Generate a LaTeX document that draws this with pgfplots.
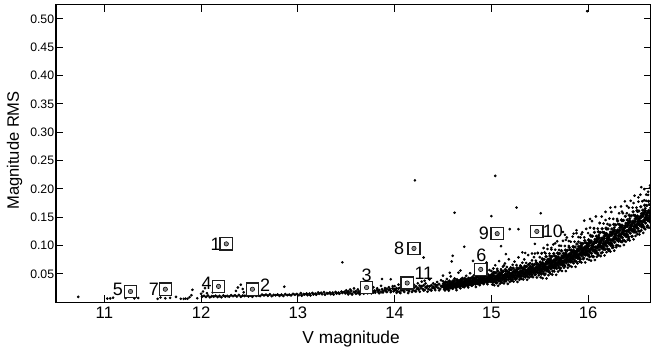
\documentclass[border=0pt]{standalone}
\usepackage{fontspec}
\setmainfont{Liberation Sans}
\usepackage{pgfplots}
\usepackage{pgfplotstable}
\pgfplotsset{compat=1.18}

\pgfplotstableread{
x y
10.73 0.0095
11.03 0.0065
11.06 0.0068
11.09 0.0080
11.22 0.0075
11.31 0.0068
11.35 0.0075
11.55 0.0060
11.58 0.0085
11.63 0.0070
11.68 0.0078
11.74 0.0095
11.79 0.0062
11.82 0.0060
11.84 0.0065
11.86 0.0062
11.88 0.0090
11.90 0.0125
11.91 0.0220
11.96 0.0070
12.00 0.0150
12.02 0.0190
12.04 0.0250
12.06 0.0160
12.12 0.0175
12.36 0.0200
12.38 0.0260
12.41 0.0310
12.43 0.0235
12.44 0.0175
12.86 0.0275
13.46 0.0705
13.87 0.0410
13.96 0.0405
14.16 0.0405
14.30 0.0790
14.21 0.2150
14.35 0.0420
14.31 0.0380
14.50 0.0470
14.57 0.0520
14.59 0.0720
14.60 0.0820
14.62 0.1580
14.68 0.0560
14.72 0.0980
14.81 0.0730
14.95 0.0700
15.00 0.1520
15.04 0.2230
15.10 0.0990
15.13 0.0650
15.15 0.0850
15.19 0.1290
15.26 0.1670
15.28 0.1290
15.32 0.0880
15.35 0.0870
15.42 0.0860
15.45 0.0860
15.45 0.1030
15.48 0.0865
15.51 0.1570
15.52 0.0860
15.55 0.0880
15.58 0.0940
15.62 0.0960
15.66 0.1040
15.70 0.1000
15.74 0.1240
15.76 0.1190
15.77 0.1100
15.80 0.1080
15.85 0.1210
15.88 0.1270
15.90 0.1150
15.93 0.1200
15.96 0.1440
15.99 0.5135
16.02 0.1470
16.06 0.1300
16.12 0.1400
16.18 0.1450
16.23 0.1670
16.35 0.1600
16.40 0.1700
16.47 0.1750
16.52 0.1850
16.55 0.2030
16.58 0.1800
16.62 0.1950
16.64 0.2060
16.60 0.1900
}\outliers

\pgfplotstableread{
x y
12.01 0.0100
12.03 0.0112
12.05 0.0095
12.07 0.0118
12.09 0.0089
12.11 0.0107
12.13 0.0102
12.15 0.0114
12.17 0.0094
12.19 0.0111
12.21 0.0090
12.23 0.0120
12.25 0.0102
12.27 0.0110
12.29 0.0100
12.31 0.0124
12.33 0.0110
12.35 0.0122
12.37 0.0104
12.39 0.0128
12.41 0.0098
12.43 0.0117
12.45 0.0112
12.47 0.0123
12.49 0.0104
12.51 0.0121
12.53 0.0100
12.55 0.0130
12.57 0.0113
12.59 0.0121
12.61 0.0110
12.63 0.0134
12.65 0.0121
12.67 0.0133
12.69 0.0116
12.71 0.0139
12.73 0.0110
12.75 0.0129
12.77 0.0124
12.79 0.0136
12.81 0.0116
12.83 0.0133
12.85 0.0113
12.87 0.0143
12.89 0.0126
12.91 0.0133
12.93 0.0123
12.95 0.0147
12.97 0.0134
12.99 0.0146
13.01 0.0126
13.03 0.0160
13.04 0.0118
13.06 0.0144
13.07 0.0137
13.09 0.0154
13.10 0.0127
13.12 0.0151
13.13 0.0122
13.15 0.0163
13.16 0.0139
13.18 0.0150
13.19 0.0136
13.21 0.0170
13.22 0.0150
13.24 0.0167
13.25 0.0143
13.27 0.0177
13.28 0.0135
13.30 0.0161
13.31 0.0155
13.33 0.0171
13.34 0.0144
13.36 0.0168
13.37 0.0139
13.39 0.0180
13.40 0.0155
13.42 0.0167
13.43 0.0152
13.45 0.0186
13.46 0.0167
13.48 0.0184
13.49 0.0159
13.51 0.0171
13.52 0.0190
13.54 0.0162
13.55 0.0202
13.56 0.0152
13.58 0.0184
13.59 0.0176
13.60 0.0195
13.62 0.0164
13.63 0.0192
13.64 0.0157
13.66 0.0207
13.67 0.0178
13.68 0.0191
13.70 0.0175
13.71 0.0215
13.72 0.0192
13.74 0.0212
13.75 0.0183
13.76 0.0223
13.78 0.0174
13.79 0.0205
13.80 0.0197
13.82 0.0217
13.83 0.0185
13.84 0.0213
13.86 0.0179
13.87 0.0228
13.88 0.0199
13.90 0.0213
13.91 0.0196
13.92 0.0236
13.94 0.0214
13.95 0.0233
13.96 0.0204
13.98 0.0245
13.99 0.0195
14.00 0.0230
14.01 0.0216
14.02 0.0247
14.03 0.0194
14.04 0.0240
14.05 0.0181
14.06 0.0262
14.07 0.0213
14.08 0.0235
14.09 0.0206
14.10 0.0272
14.11 0.0233
14.12 0.0264
14.13 0.0216
14.14 0.0282
14.15 0.0198
14.16 0.0249
14.17 0.0235
14.18 0.0267
14.19 0.0213
14.20 0.0259
14.21 0.0200
14.22 0.0281
14.23 0.0233
14.24 0.0254
14.25 0.0225
14.26 0.0291
14.27 0.0252
14.28 0.0284
14.29 0.0235
14.30 0.0301
14.31 0.0217
14.32 0.0268
14.33 0.0255
14.34 0.0286
14.35 0.0232
14.36 0.0278
14.37 0.0219
14.38 0.0301
14.39 0.0252
14.40 0.0273
14.41 0.0244
14.42 0.0310
14.43 0.0272
14.44 0.0303
14.45 0.0254
14.46 0.0320
14.47 0.0236
14.48 0.0288
14.49 0.0274
14.50 0.0280
14.51 0.0325
14.52 0.0258
14.53 0.0351
14.54 0.0235
14.55 0.0308
14.56 0.0290
14.57 0.0335
14.58 0.0260
14.59 0.0326
14.60 0.0245
14.61 0.0360
14.62 0.0293
14.63 0.0323
14.64 0.0284
14.65 0.0378
14.66 0.0325
14.67 0.0370
14.68 0.0302
14.69 0.0396
14.70 0.0280
14.71 0.0353
14.72 0.0335
14.73 0.0379
14.74 0.0305
14.75 0.0371
14.76 0.0290
14.77 0.0405
14.78 0.0337
14.79 0.0368
14.80 0.0329
14.81 0.0423
14.82 0.0370
14.83 0.0414
14.84 0.0347
14.85 0.0441
14.86 0.0325
14.87 0.0398
14.88 0.0379
14.89 0.0424
14.90 0.0350
14.91 0.0416
14.92 0.0335
14.93 0.0449
14.94 0.0382
14.95 0.0413
14.96 0.0374
14.97 0.0468
14.98 0.0414
14.99 0.0459
15.00 0.0420
15.01 0.0483
15.02 0.0386
15.03 0.0520
15.04 0.0353
15.05 0.0456
15.06 0.0429
15.07 0.0492
15.08 0.0386
15.09 0.0479
15.10 0.0362
15.11 0.0525
15.12 0.0428
15.13 0.0472
15.14 0.0415
15.15 0.0548
15.16 0.0471
15.17 0.0534
15.18 0.0438
15.19 0.0571
15.20 0.0404
15.21 0.0507
15.22 0.0480
15.23 0.0544
15.24 0.0437
15.25 0.0530
15.26 0.0414
15.27 0.0578
15.28 0.0482
15.29 0.0526
15.30 0.0470
15.31 0.0604
15.32 0.0528
15.33 0.0592
15.34 0.0496
15.35 0.0630
15.36 0.0464
15.37 0.0568
15.38 0.0542
15.39 0.0606
15.40 0.0500
15.41 0.0594
15.42 0.0478
15.43 0.0642
15.44 0.0546
15.45 0.0590
15.46 0.0534
15.47 0.0668
15.48 0.0592
15.49 0.0656
15.50 0.0600
15.51 0.0696
15.52 0.0553
15.53 0.0754
15.54 0.0506
15.55 0.0662
15.56 0.0623
15.57 0.0720
15.58 0.0561
15.59 0.0703
15.60 0.0529
15.61 0.0775
15.62 0.0632
15.63 0.0698
15.64 0.0615
15.65 0.0816
15.66 0.0702
15.67 0.0799
15.68 0.0655
15.69 0.0857
15.70 0.0608
15.71 0.0764
15.72 0.0726
15.73 0.0822
15.74 0.0664
15.75 0.0805
15.76 0.0633
15.77 0.0880
15.78 0.0738
15.79 0.0805
15.80 0.0723
15.81 0.0926
15.82 0.0813
15.83 0.0911
15.84 0.0768
15.85 0.0971
15.86 0.0724
15.87 0.0881
15.88 0.0844
15.89 0.0941
15.90 0.0784
15.91 0.0927
15.92 0.0754
15.93 0.1002
15.94 0.0859
15.95 0.0927
15.96 0.0845
15.97 0.1047
15.98 0.0935
15.99 0.1032
16.00 0.0950
16.01 0.1084
16.02 0.0882
16.03 0.1163
16.04 0.0814
16.05 0.1032
16.06 0.0977
16.07 0.1111
16.08 0.0888
16.09 0.1085
16.10 0.0841
16.11 0.1185
16.12 0.0983
16.13 0.1075
16.14 0.0957
16.15 0.1238
16.16 0.1078
16.17 0.1212
16.18 0.1010
16.19 0.1291
16.20 0.0942
16.21 0.1160
16.22 0.1105
16.23 0.1239
16.24 0.1016
16.25 0.1213
16.26 0.0971
16.27 0.1317
16.28 0.1117
16.29 0.1211
16.30 0.1095
16.31 0.1378
16.32 0.1220
16.33 0.1356
16.34 0.1156
16.35 0.1439
16.36 0.1092
16.37 0.1312
16.38 0.1259
16.39 0.1395
16.40 0.1174
16.41 0.1373
16.42 0.1131
16.43 0.1477
16.44 0.1277
16.45 0.1371
16.46 0.1255
16.47 0.1538
16.48 0.1380
16.49 0.1516
16.50 0.1316
16.51 0.1601
16.52 0.1256
16.53 0.1478
16.54 0.1427
16.55 0.1565
16.56 0.1346
16.57 0.1547
16.58 0.1307
16.59 0.1655
16.60 0.1457
16.61 0.1553
16.62 0.1439
16.63 0.1724
16.64 0.1568
16.65 0.1706
}\fringe

\pgfplotstableread{
x y
13.50 0.0209
13.52 0.0139
13.54 0.0225
13.56 0.0137
13.58 0.0244
13.60 0.0150
13.62 0.0227
13.64 0.0139
13.66 0.0270
13.68 0.0152
13.70 0.0229
13.72 0.0159
13.74 0.0245
13.76 0.0157
13.78 0.0264
13.80 0.0170
13.82 0.0247
13.84 0.0159
13.86 0.0290
13.88 0.0172
13.90 0.0249
13.92 0.0179
13.94 0.0265
13.96 0.0177
13.98 0.0284
14.00 0.0285
14.02 0.0167
14.04 0.0310
14.06 0.0162
14.08 0.0340
14.10 0.0182
14.12 0.0309
14.14 0.0162
14.16 0.0379
14.18 0.0182
14.20 0.0309
14.22 0.0191
14.24 0.0334
14.26 0.0186
14.28 0.0364
14.30 0.0206
14.32 0.0333
14.34 0.0186
14.36 0.0403
14.38 0.0206
14.40 0.0333
14.42 0.0215
14.44 0.0358
14.46 0.0210
14.48 0.0388
14.50 0.0371
14.52 0.0209
14.54 0.0410
14.56 0.0206
14.58 0.0456
14.60 0.0238
14.62 0.0419
14.64 0.0214
14.66 0.0521
14.68 0.0246
14.70 0.0427
14.72 0.0265
14.74 0.0466
14.76 0.0262
14.78 0.0512
14.80 0.0294
14.82 0.0475
14.84 0.0270
14.86 0.0577
14.88 0.0302
14.90 0.0483
14.92 0.0321
14.94 0.0522
14.96 0.0318
14.98 0.0568
15.00 0.0550
15.01 0.0313
15.02 0.0596
15.03 0.0300
15.04 0.0653
15.05 0.0336
15.06 0.0589
15.07 0.0292
15.08 0.0726
15.09 0.0329
15.10 0.0582
15.11 0.0345
15.12 0.0628
15.13 0.0332
15.14 0.0685
15.15 0.0368
15.16 0.0621
15.17 0.0324
15.18 0.0758
15.19 0.0361
15.20 0.0614
15.21 0.0377
15.22 0.0660
15.23 0.0364
15.24 0.0717
15.25 0.0400
15.26 0.0654
15.27 0.0358
15.28 0.0792
15.29 0.0396
15.30 0.0650
15.31 0.0414
15.32 0.0698
15.33 0.0402
15.34 0.0756
15.35 0.0440
15.36 0.0694
15.37 0.0398
15.38 0.0832
15.39 0.0436
15.40 0.0690
15.41 0.0454
15.42 0.0738
15.43 0.0442
15.44 0.0796
15.45 0.0480
15.46 0.0734
15.47 0.0438
15.48 0.0872
15.49 0.0476
15.50 0.0795
15.51 0.0441
15.52 0.0868
15.53 0.0424
15.54 0.0956
15.55 0.0482
15.56 0.0863
15.57 0.0420
15.58 0.1011
15.59 0.0478
15.60 0.0859
15.61 0.0505
15.62 0.0932
15.63 0.0488
15.64 0.1020
15.65 0.0546
15.66 0.0927
15.67 0.0484
15.68 0.1075
15.69 0.0542
15.70 0.0923
15.71 0.0569
15.72 0.0996
15.73 0.0552
15.74 0.1084
15.75 0.0610
15.76 0.0993
15.77 0.0550
15.78 0.1143
15.79 0.0610
15.80 0.0993
15.81 0.0641
15.82 0.1068
15.83 0.0626
15.84 0.1158
15.85 0.0686
15.86 0.1069
15.87 0.0626
15.88 0.1219
15.89 0.0686
15.90 0.1069
15.91 0.0717
15.92 0.1144
15.93 0.0702
15.94 0.1234
15.95 0.0762
15.96 0.1145
15.97 0.0702
15.98 0.1295
15.99 0.0762
16.00 0.1220
16.01 0.0748
16.02 0.1316
16.03 0.0734
16.04 0.1432
16.05 0.0800
16.06 0.1308
16.07 0.0746
16.08 0.1514
16.09 0.0802
16.10 0.1300
16.11 0.0828
16.12 0.1396
16.13 0.0814
16.14 0.1512
16.15 0.0880
16.16 0.1388
16.17 0.0826
16.18 0.1594
16.19 0.0882
16.20 0.1380
16.21 0.0908
16.22 0.1476
16.23 0.0894
16.24 0.1592
16.25 0.0960
16.26 0.1470
16.27 0.0910
16.28 0.1680
16.29 0.0970
16.30 0.1470
16.31 0.1000
16.32 0.1570
16.33 0.0990
16.34 0.1690
16.35 0.1060
16.36 0.1570
16.37 0.1010
16.38 0.1780
16.39 0.1070
16.40 0.1570
16.41 0.1100
16.42 0.1670
16.43 0.1090
16.44 0.1790
16.45 0.1160
16.46 0.1670
16.47 0.1110
16.48 0.1880
16.49 0.1170
16.50 0.1670
16.51 0.1202
16.52 0.1774
16.53 0.1196
16.54 0.1898
16.55 0.1270
16.56 0.1782
16.57 0.1224
16.58 0.1996
16.59 0.1288
16.60 0.1790
16.61 0.1322
16.62 0.1894
16.63 0.1316
16.64 0.2018
16.65 0.1390
}\halo

\pgfplotstableread{
x y
14.505 0.0330
14.515 0.0231
14.525 0.0357
14.535 0.0251
14.545 0.0353
14.555 0.0232
14.565 0.0375
14.575 0.0255
14.585 0.0353
14.595 0.0254
14.605 0.0379
14.615 0.0273
14.625 0.0375
14.635 0.0255
14.645 0.0398
14.655 0.0277
14.665 0.0375
14.675 0.0276
14.685 0.0402
14.695 0.0296
14.705 0.0397
14.715 0.0277
14.725 0.0420
14.735 0.0300
14.745 0.0398
14.755 0.0298
14.765 0.0424
14.775 0.0318
14.785 0.0420
14.795 0.0300
14.805 0.0442
14.815 0.0322
14.825 0.0420
14.835 0.0321
14.845 0.0447
14.855 0.0340
14.865 0.0442
14.875 0.0322
14.885 0.0465
14.895 0.0345
14.905 0.0442
14.915 0.0343
14.925 0.0469
14.935 0.0363
14.945 0.0465
14.955 0.0344
14.965 0.0487
14.975 0.0367
14.985 0.0465
14.995 0.0366
15.005 0.0492
15.015 0.0350
15.025 0.0528
15.035 0.0376
15.045 0.0519
15.055 0.0348
15.065 0.0551
15.075 0.0379
15.085 0.0517
15.095 0.0375
15.105 0.0554
15.115 0.0402
15.125 0.0545
15.135 0.0373
15.145 0.0576
15.155 0.0405
15.165 0.0543
15.175 0.0401
15.185 0.0579
15.195 0.0427
15.205 0.0571
15.215 0.0399
15.225 0.0602
15.235 0.0430
15.245 0.0568
15.255 0.0427
15.265 0.0606
15.275 0.0455
15.285 0.0599
15.295 0.0428
15.305 0.0632
15.315 0.0461
15.325 0.0600
15.335 0.0459
15.345 0.0638
15.355 0.0487
15.365 0.0631
15.375 0.0460
15.385 0.0664
15.395 0.0493
15.405 0.0632
15.415 0.0491
15.425 0.0670
15.435 0.0519
15.445 0.0663
15.455 0.0492
15.465 0.0696
15.475 0.0525
15.485 0.0664
15.495 0.0523
15.505 0.0708
15.515 0.0497
15.525 0.0766
15.535 0.0539
15.545 0.0757
15.555 0.0500
15.565 0.0807
15.575 0.0550
15.585 0.0759
15.595 0.0548
15.605 0.0817
15.615 0.0591
15.625 0.0808
15.635 0.0551
15.645 0.0858
15.655 0.0601
15.665 0.0811
15.675 0.0599
15.685 0.0868
15.695 0.0642
15.705 0.0859
15.715 0.0603
15.725 0.0909
15.735 0.0652
15.745 0.0862
15.755 0.0651
15.765 0.0921
15.775 0.0696
15.785 0.0915
15.795 0.0659
15.805 0.0967
15.815 0.0711
15.825 0.0922
15.835 0.0712
15.845 0.0982
15.855 0.0757
15.865 0.0975
15.875 0.0720
15.885 0.1028
15.895 0.0772
15.905 0.0983
15.915 0.0772
15.925 0.1043
15.935 0.0818
15.945 0.1036
15.955 0.0781
15.965 0.1088
15.975 0.0833
15.985 0.1044
15.995 0.0833
16.005 0.1101
16.015 0.0804
16.025 0.1180
16.035 0.0862
16.045 0.1165
16.055 0.0805
16.065 0.1233
16.075 0.0873
16.085 0.1165
16.095 0.0868
16.105 0.1244
16.115 0.0926
16.125 0.1229
16.135 0.0869
16.145 0.1297
16.155 0.0937
16.165 0.1229
16.175 0.0932
16.185 0.1308
16.195 0.0990
16.205 0.1293
16.215 0.0933
16.225 0.1361
16.235 0.1001
16.245 0.1293
16.255 0.0997
16.265 0.1375
16.275 0.1059
16.285 0.1364
16.295 0.1006
16.305 0.1436
16.315 0.1078
16.325 0.1372
16.335 0.1077
16.345 0.1455
16.355 0.1139
16.365 0.1444
16.375 0.1086
16.385 0.1516
16.395 0.1158
16.405 0.1452
16.415 0.1157
16.425 0.1535
16.435 0.1219
16.445 0.1524
16.455 0.1166
16.465 0.1596
16.475 0.1238
16.485 0.1532
16.495 0.1237
16.505 0.1616
16.515 0.1302
16.525 0.1609
16.535 0.1253
16.545 0.1685
16.555 0.1329
16.565 0.1625
16.575 0.1332
16.585 0.1712
16.595 0.1398
16.605 0.1705
16.615 0.1349
16.625 0.1781
16.635 0.1425
16.645 0.1721
}\mid

\pgfplotstableread{
x y
14.505 0.0295
14.515 0.0263
14.525 0.0315
14.535 0.0283
14.545 0.0293
14.555 0.0267
14.565 0.0319
14.575 0.0287
14.585 0.0318
14.595 0.0286
14.605 0.0337
14.615 0.0305
14.625 0.0315
14.635 0.0290
14.645 0.0342
14.655 0.0309
14.665 0.0340
14.675 0.0308
14.685 0.0360
14.695 0.0328
14.705 0.0337
14.715 0.0312
14.725 0.0364
14.735 0.0332
14.745 0.0363
14.755 0.0330
14.765 0.0382
14.775 0.0350
14.785 0.0360
14.795 0.0335
14.805 0.0386
14.815 0.0354
14.825 0.0385
14.835 0.0353
14.845 0.0405
14.855 0.0372
14.865 0.0382
14.875 0.0357
14.885 0.0409
14.895 0.0377
14.905 0.0407
14.915 0.0375
14.925 0.0427
14.935 0.0395
14.945 0.0405
14.955 0.0379
14.965 0.0431
14.975 0.0399
14.985 0.0430
14.995 0.0398
15.005 0.0442
15.015 0.0395
15.025 0.0468
15.035 0.0421
15.045 0.0434
15.055 0.0398
15.065 0.0471
15.075 0.0424
15.085 0.0467
15.095 0.0420
15.105 0.0494
15.115 0.0447
15.125 0.0460
15.135 0.0423
15.145 0.0496
15.155 0.0450
15.165 0.0493
15.175 0.0446
15.185 0.0519
15.195 0.0472
15.205 0.0486
15.215 0.0449
15.225 0.0522
15.235 0.0475
15.245 0.0518
15.255 0.0472
15.265 0.0546
15.275 0.0500
15.285 0.0514
15.295 0.0478
15.305 0.0552
15.315 0.0506
15.325 0.0550
15.335 0.0504
15.345 0.0578
15.355 0.0532
15.365 0.0546
15.375 0.0510
15.385 0.0584
15.395 0.0538
15.405 0.0582
15.415 0.0536
15.425 0.0610
15.435 0.0564
15.445 0.0578
15.455 0.0542
15.465 0.0616
15.475 0.0570
15.485 0.0614
15.495 0.0568
15.505 0.0633
15.515 0.0565
15.525 0.0676
15.535 0.0607
15.545 0.0629
15.555 0.0575
15.565 0.0687
15.575 0.0618
15.585 0.0684
15.595 0.0616
15.605 0.0727
15.615 0.0659
15.625 0.0680
15.635 0.0626
15.645 0.0738
15.655 0.0669
15.665 0.0736
15.675 0.0667
15.685 0.0778
15.695 0.0710
15.705 0.0731
15.715 0.0678
15.725 0.0789
15.735 0.0720
15.745 0.0787
15.755 0.0719
15.765 0.0831
15.775 0.0764
15.785 0.0787
15.795 0.0734
15.805 0.0847
15.815 0.0779
15.825 0.0847
15.835 0.0780
15.845 0.0892
15.855 0.0825
15.865 0.0847
15.875 0.0795
15.885 0.0908
15.895 0.0840
15.905 0.0908
15.915 0.0840
15.925 0.0953
15.935 0.0886
15.945 0.0908
15.955 0.0856
15.965 0.0968
15.975 0.0901
15.985 0.0969
15.995 0.0901
15.50 0.0525
15.51 0.0666
15.52 0.0583
15.53 0.0694
15.54 0.0641
15.55 0.0587
15.56 0.0668
15.57 0.0578
15.58 0.0576
15.59 0.0718
15.60 0.0634
15.61 0.0745
15.62 0.0692
15.63 0.0638
15.64 0.0720
15.65 0.0629
15.66 0.0627
15.67 0.0769
15.68 0.0685
15.69 0.0797
15.70 0.0743
15.71 0.0689
15.72 0.0771
15.73 0.0680
15.74 0.0679
15.75 0.0820
15.76 0.0738
15.77 0.0850
15.78 0.0798
15.79 0.0745
15.80 0.0828
15.81 0.0738
15.82 0.0738
15.83 0.0881
15.84 0.0798
15.85 0.0911
15.86 0.0859
15.87 0.0806
15.88 0.0889
15.89 0.0799
15.90 0.0799
15.91 0.0942
15.92 0.0859
15.93 0.0972
15.94 0.0919
15.95 0.0867
15.96 0.0950
15.97 0.0860
15.98 0.0860
15.99 0.1002
16.005 0.0996
16.015 0.0899
16.025 0.1054
16.035 0.0957
16.045 0.0986
16.055 0.0910
16.065 0.1065
16.075 0.0968
16.085 0.1060
16.095 0.0963
16.105 0.1118
16.115 0.1021
16.125 0.1050
16.135 0.0974
16.145 0.1129
16.155 0.1032
16.165 0.1124
16.175 0.1027
16.185 0.1182
16.195 0.1085
16.205 0.1114
16.215 0.1038
16.225 0.1193
16.235 0.1096
16.245 0.1188
16.255 0.1092
16.265 0.1249
16.275 0.1154
16.285 0.1185
16.295 0.1111
16.305 0.1268
16.315 0.1173
16.325 0.1267
16.335 0.1172
16.345 0.1329
16.355 0.1234
16.365 0.1265
16.375 0.1191
16.385 0.1348
16.395 0.1253
16.405 0.1347
16.415 0.1252
16.425 0.1409
16.435 0.1314
16.445 0.1345
16.455 0.1271
16.465 0.1428
16.475 0.1333
16.485 0.1427
16.495 0.1332
16.505 0.1490
16.515 0.1397
16.525 0.1430
16.535 0.1358
16.545 0.1517
16.555 0.1424
16.565 0.1520
16.575 0.1427
16.585 0.1586
16.595 0.1493
16.605 0.1526
16.615 0.1454
16.625 0.1613
16.635 0.1520
16.645 0.1616
16.00 0.0845
16.01 0.1042
16.02 0.0924
16.03 0.1079
16.04 0.1003
16.05 0.0927
16.06 0.1040
16.07 0.0911
16.08 0.0909
16.09 0.1106
16.10 0.0988
16.11 0.1143
16.12 0.1067
16.13 0.0991
16.14 0.1104
16.15 0.0975
16.16 0.0973
16.17 0.1170
16.18 0.1052
16.19 0.1207
16.20 0.1131
16.21 0.1055
16.22 0.1168
16.23 0.1039
16.24 0.1037
16.25 0.1234
16.26 0.1118
16.27 0.1275
16.28 0.1201
16.29 0.1127
16.30 0.1242
16.31 0.1115
16.32 0.1115
16.33 0.1314
16.34 0.1198
16.35 0.1355
16.36 0.1281
16.37 0.1207
16.38 0.1322
16.39 0.1195
16.40 0.1195
16.41 0.1394
16.42 0.1278
16.43 0.1435
16.44 0.1361
16.45 0.1287
16.46 0.1402
16.47 0.1275
16.48 0.1275
16.49 0.1474
16.50 0.1358
16.51 0.1517
16.52 0.1445
16.53 0.1373
16.54 0.1490
16.55 0.1365
16.56 0.1367
16.57 0.1568
16.58 0.1454
16.59 0.1613
16.60 0.1541
16.61 0.1469
16.62 0.1586
16.63 0.1461
16.64 0.1463
16.65 0.1664
}\core

\pgfplotstableread{
x y
12.26 0.103
12.53 0.023
13.71 0.026
12.18 0.028
11.27 0.019
14.89 0.058
11.63 0.023
14.20 0.095
15.06 0.121
15.47 0.125
14.13 0.034
}\marked

\definecolor{dotgray}{HTML}{8C8C8C}
\definecolor{boxcol}{HTML}{1E1E1E}

\begin{document}
\begin{tikzpicture}
\begin{axis}[
  scale only axis,
  width=446.25pt, height=223.2pt,
  xmin=10.5, xmax=16.65,
  ymin=0, ymax=0.525,
  xtick={11,12,13,14,15,16},
  ytick={0.05,0.10,0.15,0.20,0.25,0.30,0.35,0.40,0.45,0.50},
  tick align=inside,
  tick pos=both,
  major tick length=5.5pt,
  axis line style={line width=0.9pt, black},
  every tick/.style={line width=0.8pt, black},
  /pgf/number format/assume math mode=true,
  yticklabel style={font=\fontsize{9.2}{11}\selectfont, inner xsep=1.2pt,
    /pgf/number format/.cd, fixed, fixed zerofill, precision=2},
  xticklabel style={font=\fontsize{12.5}{14}\selectfont},
  xlabel={V magnitude},
  ylabel={Magnitude RMS},
  xlabel style={font=\fontsize{13}{15}\selectfont, at={(axis description cs:0.496,-0.1378)}, anchor=base},
  ylabel style={font=\fontsize{12.4}{14}\selectfont, at={(axis description cs:-0.0622,0.51)}, anchor=base, rotate=0},
  clip=true,
]
\addplot[only marks, mark=*, mark size=0.78pt, black] table[x=x,y=y] {\outliers};
\addplot[only marks, mark=*, mark size=0.82pt, black] table[x=x,y=y] {\halo};
\addplot[only marks, mark=*, mark size=0.9pt, black] table[x=x,y=y] {\fringe};
\addplot[only marks, mark=*, mark size=1.05pt, black] table[x=x,y=y] {\mid};
\addplot[only marks, mark=*, mark size=1.25pt, black] table[x=x,y=y] {\core};
\addplot[only marks, mark=square*, mark size=4.6pt, mark options={draw=boxcol, fill=white, line width=1pt}] table[x=x,y=y] {\marked};
\addplot[only marks, mark=*, mark size=1.65pt, mark options={draw=none, fill=dotgray}] table[x=x,y=y] {\marked};
\tikzset{lab/.style={font=\fontsize{13.5}{15}\selectfont, inner sep=0pt}}
\node[lab, xshift=-8pt] at (axis cs:12.26,0.103) {1};
\node[lab, xshift=9.5pt, yshift=2.8pt] at (axis cs:12.53,0.023) {2};
\node[lab, yshift=9.5pt] at (axis cs:13.71,0.026) {3};
\node[lab, xshift=-9pt, yshift=2.3pt] at (axis cs:12.18,0.028) {4};
\node[lab, xshift=-9.5pt, yshift=1.5pt] at (axis cs:11.27,0.019) {5};
\node[lab, xshift=0.5pt, yshift=10.5pt] at (axis cs:14.89,0.058) {6};
\node[lab, xshift=-8.5pt] at (axis cs:11.63,0.023) {7};
\node[lab, xshift=-11.2pt] at (axis cs:14.20,0.095) {8};
\node[lab, xshift=-10pt] at (axis cs:15.06,0.121) {9};
\node[lab, xshift=12pt] at (axis cs:15.47,0.125) {10};
\node[lab, xshift=12.5pt, yshift=7.2pt] at (axis cs:14.13,0.034) {11};
\end{axis}
\pgfresetboundingbox
\path[use as bounding box] (-42pt,-35.8pt) rectangle (446.25pt,226.7pt);
\end{tikzpicture}
\end{document}
